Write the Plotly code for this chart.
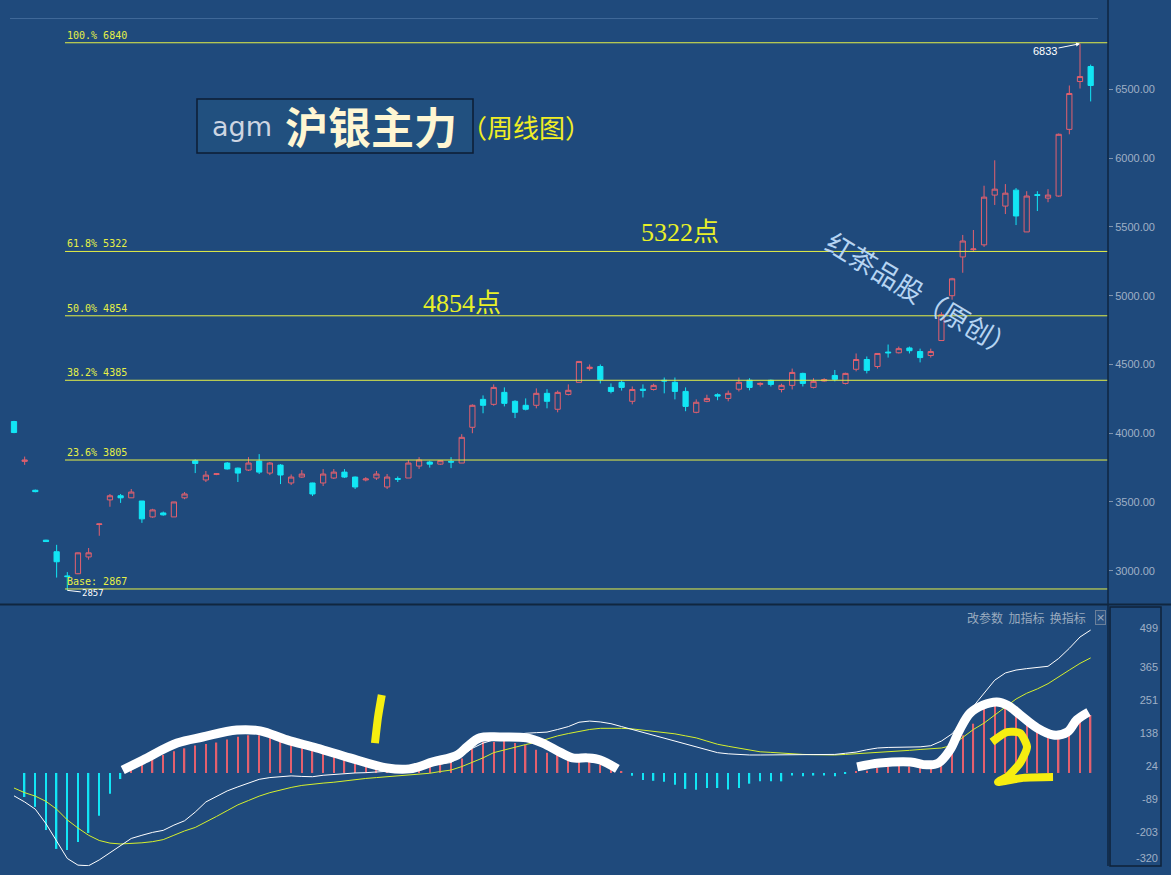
import plotly.graph_objects as go

W, H = 1171, 867   # page height kept inside the 875px window so nothing is rescaled
BG = "#1f4a7c"
RED = "#e4606e"
CYAN = "#12e6f5"
FIBC = "#e6f046"
AXC = "#9fb0c6"

# ---------------- weekly OHLC (沪银主力) ----------------
open_ = [4085, 3795, 3585, 3222, 3138, 2962, 2978, 3100, 3336, 3515,
         3545, 3530, 3507, 3391, 3420, 3391, 3530, 3800, 3660, 3700,
         3783, 3746, 3732, 3797, 3710, 3768, 3638, 3681, 3638, 3638,
         3674, 3717, 3681, 3660, 3674, 3609, 3670, 3674, 3761, 3790,
         3775, 3795, 3783, 4043, 4246, 4210, 4297, 4232, 4203, 4203,
         4290, 4174, 4282, 4370, 4470, 4485, 4333, 4370, 4232, 4320,
         4318, 4385, 4370, 4304, 4152, 4232, 4280, 4253, 4320, 4385,
         4355, 4385, 4318, 4348, 4435, 4333, 4380, 4420, 4362, 4465,
         4536, 4485, 4590, 4585, 4620, 4594, 4565, 4674, 5000, 5282,
         5335, 5370, 5732, 5652, 5768, 5464, 5735, 5710, 5725, 6210,
         6558, 6667]
high = [4090, 3830, 3590, 3225, 3188, 2990, 3132, 3165, 3342, 3558,
        3558, 3594, 3507, 3450, 3430, 3500, 3572, 3810, 3725, 3710,
        3790, 3750, 3826, 3848, 3790, 3775, 3700, 3732, 3640, 3739,
        3739, 3739, 3685, 3680, 3725, 3703, 3685, 3805, 3826, 3800,
        3805, 3826, 3993, 4210, 4275, 4355, 4333, 4240, 4253, 4326,
        4320, 4310, 4355, 4522, 4500, 4500, 4362, 4385, 4340, 4355,
        4360, 4405, 4405, 4333, 4246, 4280, 4290, 4310, 4405, 4400,
        4370, 4390, 4360, 4470, 4440, 4400, 4400, 4460, 4440, 4580,
        4558, 4580, 4645, 4630, 4630, 4615, 4615, 4880, 5130, 5442,
        5478, 5800, 5985, 5812, 5783, 5760, 5760, 5775, 6180, 6529,
        6833, 6681]
low = [4000, 3770, 3570, 3210, 2950, 2857, 2975, 3080, 3254, 3465,
       3493, 3530, 3348, 3385, 3400, 3391, 3520, 3710, 3645, 3695,
       3735, 3645, 3725, 3703, 3695, 3630, 3623, 3675, 3543, 3616,
       3667, 3674, 3594, 3650, 3660, 3594, 3645, 3674, 3740, 3750,
       3770, 3746, 3783, 4000, 4145, 4200, 4195, 4110, 4166, 4181,
       4181, 4152, 4275, 4370, 4455, 4362, 4290, 4310, 4210, 4260,
       4310, 4290, 4246, 4160, 4145, 4225, 4240, 4232, 4304, 4312,
       4340, 4340, 4297, 4318, 4340, 4326, 4375, 4377, 4355, 4450,
       4435, 4470, 4550, 4580, 4580, 4515, 4550, 4674, 4971, 5167,
       5318, 5355, 5660, 5594, 5514, 5464, 5616, 5680, 5720, 6174,
       6507, 6413]
close = [4005, 3805, 3575, 3212, 3065, 2957, 3130, 3130, 3340, 3545,
         3530, 3572, 3377, 3442, 3406, 3500, 3558, 3780, 3695, 3705,
         3740, 3710, 3783, 3717, 3783, 3696, 3681, 3703, 3558, 3703,
         3717, 3681, 3609, 3667, 3703, 3681, 3665, 3783, 3805, 3775,
         3800, 3790, 3970, 4203, 4203, 4333, 4217, 4152, 4174, 4290,
         4232, 4297, 4312, 4522, 4480, 4390, 4304, 4333, 4318, 4312,
         4348, 4380, 4304, 4195, 4225, 4253, 4270, 4290, 4370, 4333,
         4362, 4355, 4348, 4442, 4362, 4377, 4390, 4392, 4435, 4536,
         4457, 4580, 4585, 4615, 4600, 4550, 4594, 4862, 5123, 5398,
         5340, 5717, 5775, 5746, 5580, 5725, 5730, 5732, 6174, 6471,
         6594, 6529]

# ---------------- MACD ----------------
macd_hist = [0, -83, -117, -197, -262, -266, -238, -207, -148, -72,
             -21, 10, 30, 50, 62, 75, 85, 95, 100, 105,
             115, 125, 130, 130, 127, 120, 110, 100, 90, 80,
             70, 62, 52, 45, 35, 25, 18, 18, 17, 25,
             30, 38, 50, 85, 107, 107, 114, 103, 97, 80,
             70, 62, 52, 55, 62, 28, 15, 5, -10, -24,
             -27, -30, -41, -55, -58, -52, -52, -57, -52, -37,
             -29, -29, -29, -9, -11, -9, -9, -11, -3, 5,
             8, 17, 22, 28, 22, 17, 22, 35, 85, 130,
             170, 222, 238, 228, 205, 180, 150, 128, 125, 140,
             190, 200]
dif = [-79, -100, -125, -175, -235, -295, -318, -320, -300, -275,
       -250, -226, -215, -205, -198, -180, -165, -135, -100, -80,
       -62, -48, -35, -22, -16, -12, -10, -12, -13, -8,
       -5, -2, 0, 1, 3, 5, 8, 12, 20, 27,
       30, 36, 60, 85, 103, 115, 125, 132, 137, 139,
       141, 150, 160, 175, 179, 176, 170, 160, 150, 140,
       130, 120, 110, 100, 88, 78, 70, 66, 63, 62,
       62, 62, 62, 62, 62, 62, 62, 64, 68, 72,
       80, 86, 88, 88, 89, 90, 94, 110, 135, 180,
       230, 275, 320, 345, 355, 360, 364, 368, 395, 430,
       469, 493]
dea = [-52, -68, -80, -98, -125, -162, -190, -215, -233, -242,
       -245, -244, -241, -237, -230, -215, -200, -188, -170, -150,
       -130, -110, -95, -80, -68, -58, -50, -43, -38, -35,
       -32, -27, -23, -19, -16, -13, -10, -9, -6, -1,
       5, 10, 22, 36, 52, 70, 80, 90, 98, 106,
       118, 128, 136, 143, 150, 154, 155, 154, 152, 148,
       144, 140, 135, 128, 121, 110, 99, 92, 85, 78,
       73, 71, 68, 66, 64, 63, 62, 62, 64, 66,
       68, 71, 72, 75, 78, 81, 84, 86, 95, 121,
       150, 172, 200, 225, 255, 275, 290, 308, 330, 355,
       378, 397]

# ---------------- Fibonacci levels / ticks ----------------
fib_pct = ["100.%", "61.8%", "50.0%", "38.2%", "23.6%", "Base:"]
fib_val = [6840, 5322, 4854, 4385, 3805, 2867]
price_ticks = [3000, 3500, 4000, 4500, 5000, 5500, 6000, 6500]
macd_tick_text = ["499", "365", "251", "138", "24", "-89", "-203", "-320"]
# the bottom label (-320, the axis minimum) is lifted inside the panel, as in the source
macd_tick_pos = [499, 365, 251, 138, 24, -89, -203, -293]

# ---------------- hand-drawn marks (bar index, MACD value) ----------------
stroke1_x = [10.2, 12.1, 15.3, 17.7, 20.9, 23.1, 25.6, 28.4, 31.5, 35.0, 37.1,
             39.3, 41.6, 42.5, 43.7, 45.6, 48.1, 49.6, 51.2, 52.4, 53.8, 55.0, 56.6]
stroke1_y = [10, 45, 103, 124, 148, 145, 114, 86, 52, 17, 14,
             38, 62, 90, 121, 124, 121, 103, 72, 52, 52, 45, 14]
stroke2_x = [79.1, 81.2, 84.1, 85.6, 86.7, 87.8, 88.7, 89.7, 90.9, 92.2, 93.2,
             94.4, 96.0, 97.5, 98.8, 99.7, 100.8]
stroke2_y = [21, 34, 38, 28, 34, 79, 148, 207, 234, 245, 234,
             200, 155, 131, 141, 183, 210]
one_x = [34.5, 34.15, 33.86]
one_y = [269, 193, 103]
two_x = [91.74, 93.15, 94.37, 95.03, 94.37, 93.15, 92.31, 94.65, 97.47]
two_y = [107, 141, 138, 90, 34, -14, -31, -17, -14]

n = len(open_)
xs = list(range(n))


def px(x):
    return x / W


def py(y):
    return 1 - y / H


fig = go.Figure()

fig.add_trace(go.Candlestick(
    x=xs, open=open_, high=high, low=low, close=close,
    increasing=dict(line=dict(color=RED, width=1), fillcolor=BG),
    decreasing=dict(line=dict(color=CYAN, width=1), fillcolor=CYAN),
    whiskerwidth=0, xaxis="x", yaxis="y", hoverinfo="skip"))

fig.add_trace(go.Bar(
    x=xs, y=macd_hist, width=0.13,
    marker=dict(color=[RED if v > 0 else CYAN for v in macd_hist], line=dict(width=0)),
    xaxis="x2", yaxis="y2", hoverinfo="skip"))

fig.add_trace(go.Scatter(x=xs, y=dea, mode="lines", line=dict(color="#d6f02c", width=1),
                         xaxis="x2", yaxis="y2", hoverinfo="skip"))
fig.add_trace(go.Scatter(x=xs, y=dif, mode="lines", line=dict(color="#ffffff", width=1),
                         xaxis="x2", yaxis="y2", hoverinfo="skip"))

for sx, sy in [(stroke1_x, stroke1_y), (stroke2_x, stroke2_y)]:
    fig.add_trace(go.Scatter(x=sx, y=sy, mode="lines",
                             line=dict(color="#ffffff", width=9, shape="spline", smoothing=1),
                             xaxis="x2", yaxis="y2", hoverinfo="skip"))
for sx, sy in [(one_x, one_y), (two_x, two_y)]:
    fig.add_trace(go.Scatter(x=sx, y=sy, mode="lines",
                             line=dict(color="#f6ee10", width=8, shape="spline", smoothing=0.6),
                             xaxis="x2", yaxis="y2", hoverinfo="skip"))

XL, XR = 10, 1108
x_rng = [(XL - 14) / 10.66, (XR - 14) / 10.66]
fib_x0 = (65 - 14) / 10.66

shapes = []
for v in fib_val:
    shapes.append(dict(type="line", xref="x", yref="y", x0=fib_x0, x1=x_rng[1], y0=v, y1=v,
                       line=dict(color=FIBC, width=1)))
# panel frame decorations
shapes += [
    dict(type="line", xref="paper", yref="paper", x0=px(10), x1=px(1098), y0=py(18.5), y1=py(18.5),
         line=dict(color="#3f6898", width=1)),
    dict(type="line", xref="paper", yref="paper", x0=px(1108), x1=px(1108), y0=py(0), y1=py(866),
         line=dict(color="#0f2640", width=1.5)),
    dict(type="line", xref="paper", yref="paper", x0=0, x1=1, y0=py(604.5), y1=py(604.5),
         line=dict(color="#10263f", width=2)),
    dict(type="rect", xref="paper", yref="paper", x0=px(1110), x1=px(1161), y0=py(607), y1=py(866),
         line=dict(color="#0f2238", width=1.5)),
    dict(type="rect", xref="paper", yref="paper", x0=px(197), x1=px(473), y0=py(99), y1=py(153),
         line=dict(color="#0c1c33", width=1.5), fillcolor="#21507f", layer="below"),
]

ann = []
for lab, v in zip(fib_pct, fib_val):
    ann.append(dict(x=fib_x0, y=v, xref="x", yref="y", text=f"{lab} {v}", showarrow=False,
                    xanchor="left", yanchor="bottom", yshift=0,
                    font=dict(family="DejaVu Sans Mono", size=10, color=FIBC)))
# low marker
ann.append(dict(x=5, y=2857, xref="x", yref="y", text="2857", showarrow=True, arrowhead=0,
                arrowcolor="#ffffff", arrowwidth=1, ax=26, ay=3,
                font=dict(family="DejaVu Sans Mono", size=9, color="#ffffff")))
# high marker
ann.append(dict(x=100, y=6833, xref="x", yref="y", text="6833", showarrow=True, arrowhead=2,
                arrowsize=0.8, arrowcolor="#ffffff", arrowwidth=1, ax=-35, ay=7,
                font=dict(family="Liberation Sans", size=11, color="#ffffff")))


def label(x, y, text, family, size, color, angle=0, xanchor="center"):
    return dict(x=px(x), y=py(y), xref="paper", yref="paper", text=text, showarrow=False,
                xanchor=xanchor, yanchor="middle", textangle=angle,
                font=dict(family=family, size=size, color=color))


# title
ann.append(label(242, 126, "agm", "DejaVu Sans", 27, "#cdd5e2"))
ann.append(label(371, 125, "<b>沪银主力</b>", "Noto Sans CJK SC", 43, "#fff6d2"))
ann.append(label(526, 126, "（周线图）", "Noto Sans CJK SC", 26, "#f2ee24"))
# level notes
ann.append(label(680, 233, "5322点", "Liberation Serif, Noto Sans CJK SC", 26, "#e8f028"))
ann.append(label(462, 303, "4854点", "Liberation Serif, Noto Sans CJK SC", 26, "#e8f028"))
# watermark
ann.append(label(922, 294, "红茶品股（原创）", "Noto Sans CJK SC", 27, "#b6d4f2", angle=31))
# indicator controls
ann.append(label(1088, 617, "改参数  加指标  换指标", "Noto Sans CJK SC", 12, "#9aabbf", xanchor="right"))
a = label(1100, 617, "×", "DejaVu Sans", 11, "#9aabbf")
a.update(bordercolor="#6a7f99", borderwidth=1, borderpad=0, bgcolor="#2a5282")
ann.append(a)

fig.update_layout(
    width=W, height=H, margin=dict(l=0, r=0, t=0, b=0),
    paper_bgcolor=BG, plot_bgcolor=BG, showlegend=False,
    xaxis=dict(domain=[px(XL), px(XR)], range=x_rng, visible=False, anchor="y",
               rangeslider=dict(visible=False)),
    xaxis2=dict(domain=[px(XL), px(XR)], range=x_rng, visible=False, anchor="y2", matches="x"),
    yaxis=dict(domain=[py(603), py(18)], range=[2765, 7020], side="right", anchor="x",
               tickvals=price_ticks, ticktext=[f"{v:.2f}" for v in price_ticks],
               ticks="outside", ticklen=4, tickcolor="#7f93ad",
               tickfont=dict(family="Liberation Sans", size=11, color=AXC),
               showgrid=False, zeroline=False, showline=False),
    yaxis2=dict(domain=[py(866), py(606)], range=[-321, 576], side="left", anchor="free",
                position=px(1158), tickvals=macd_tick_pos, ticktext=macd_tick_text,
                ticks="", tickfont=dict(family="Liberation Sans", size=11, color=AXC),
                showgrid=False, zeroline=False, showline=False),
    shapes=shapes, annotations=ann,
)

fig.write_html(
    "out.html",
    config={"displayModeBar": False},
    post_script=(
        "document.documentElement.style.margin='0';"
        f"document.documentElement.style.background='{BG}';"
        "document.documentElement.style.overflow='hidden';"
        "document.body.style.margin='0';"
        "document.body.style.overflow='hidden';"
        f"document.body.style.background='{BG}';"
    ),
)
